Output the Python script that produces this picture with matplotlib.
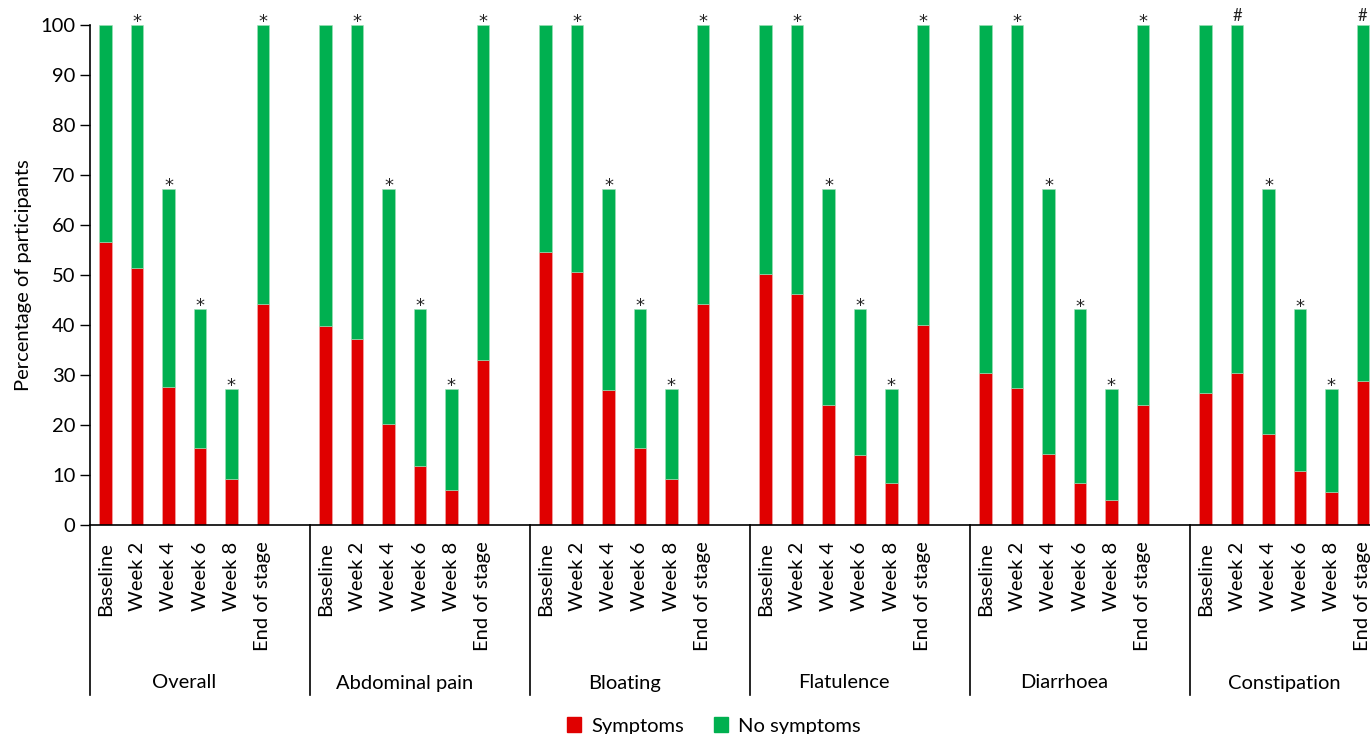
import matplotlib.pyplot as plt
from matplotlib.transforms import blended_transform_factory
from matplotlib.patches import Patch

plt.rcParams['font.family'] = ['Lato', 'DejaVu Sans']

# DATOS
grupos = ["Overall", "Abdominal pain", "Bloating", "Flatulence", "Diarrhoea", "Constipation"]
tiempos = ["Baseline", "Week 2", "Week 4", "Week 6", "Week 8", "End of stage"]

sintomas_overall = [56.7, 51.4, 27.7, 15.5, 9.3, 44.3]
sintomas_abdominal = [39.8, 37.3, 20.3, 11.8, 7.0, 33.0]
sintomas_bloating = [54.7, 50.6, 27.1, 15.5, 9.3, 44.3]
sintomas_flatulence = [50.2, 46.3, 24.0, 14.1, 8.4, 40.1]
sintomas_diarrhoea = [30.5, 27.4, 14.3, 8.4, 5.0, 24.0]
sintomas_constipation = [26.5, 30.5, 18.3, 10.9, 6.6, 28.8]

sin_overall = [43.3, 48.6, 39.5, 27.7, 18.0, 55.7]
sin_abdominal = [60.2, 62.7, 46.9, 31.4, 20.3, 67.0]
sin_bloating = [45.3, 49.4, 40.1, 27.7, 18.0, 55.7]
sin_flatulence = [49.8, 53.7, 43.2, 29.1, 18.9, 59.9]
sin_diarrhoea = [69.5, 72.6, 52.9, 34.8, 22.3, 76.0]
sin_constipation = [73.5, 69.5, 48.9, 32.3, 20.7, 71.2]

marcas_overall = ["", "*", "*", "*", "*", "*"]
marcas_constipation = ["", "#", "*", "*", "*", "#"]

sintomas = [sintomas_overall, sintomas_abdominal, sintomas_bloating,
            sintomas_flatulence, sintomas_diarrhoea, sintomas_constipation]
sin_sintomas = [sin_overall, sin_abdominal, sin_bloating,
                sin_flatulence, sin_diarrhoea, sin_constipation]
marcas = [marcas_overall] * 5 + [marcas_constipation]

ROJO = "#E00000"
VERDE = "#00B050"
FS = 14.5

# GRAFICA
fig = plt.figure(figsize=(13.7, 7.34), dpi=100)
ax = fig.add_axes([90 / 1370, 209 / 734, 1320 / 1370, 500 / 734])

pos = []
etiquetas = []
for g in range(len(grupos)):
    for t in range(len(tiempos)):
        x = g * 7 + t
        ax.bar(x, sintomas[g][t], width=0.4, color=ROJO, edgecolor="#F4B0B0", linewidth=0.4)
        ax.bar(x, sin_sintomas[g][t], bottom=sintomas[g][t], width=0.4,
               color=VERDE, edgecolor="#A0E0B8", linewidth=0.4)
        if marcas[g][t] == "*":
            tope = sintomas[g][t] + sin_sintomas[g][t]
            ax.text(x, tope - 1.3, "*", ha="center", va="bottom",
                    fontsize=13, family="DejaVu Sans", color="#222222")
        elif marcas[g][t]:
            tope = sintomas[g][t] + sin_sintomas[g][t]
            ax.text(x, tope + 0.3, marcas[g][t], ha="center", va="bottom",
                    fontsize=12, color="#222222")
        pos.append(x)
        etiquetas.append(tiempos[t])

ax.set_xlim(-0.5, 41.5)
ax.set_ylim(0, 100)
ax.set_yticks(range(0, 101, 10))
ax.tick_params(axis="y", labelsize=FS, length=7, width=1, direction="out")
ax.set_xticks(pos)
ax.set_xticklabels(etiquetas, rotation=90, fontsize=FS)
ax.tick_params(axis="x", length=0, pad=12)
ax.spines["top"].set_visible(False)
ax.spines["right"].set_visible(False)
ax.spines["left"].set_linewidth(1.2)
ax.spines["bottom"].set_linewidth(1.2)
ax.set_ylabel("Percentage of participants", fontsize=FS, labelpad=6)

# separadores y nombres de grupo
trans = blended_transform_factory(ax.transData, ax.transAxes)
for g in range(len(grupos)):
    xs = g * 7 - 0.5
    ax.plot([xs, xs], [0, -170 / 500], color="black", lw=1.2,
            transform=trans, clip_on=False)
    ax.text(g * 7 + 2.5, -158 / 500, grupos[g], ha="center", va="center",
            fontsize=FS, transform=trans)

leyenda = [Patch(color=ROJO, label="Symptoms"), Patch(color=VERDE, label="No symptoms")]
fig.legend(handles=leyenda, loc="center", bbox_to_anchor=(714 / 1370, 1 - 726 / 734),
           ncol=2, frameon=False, fontsize=FS, handlelength=0.7, handleheight=0.7,
           handletextpad=0.5, columnspacing=1.5)

fig.savefig("out.png", dpi=100)
